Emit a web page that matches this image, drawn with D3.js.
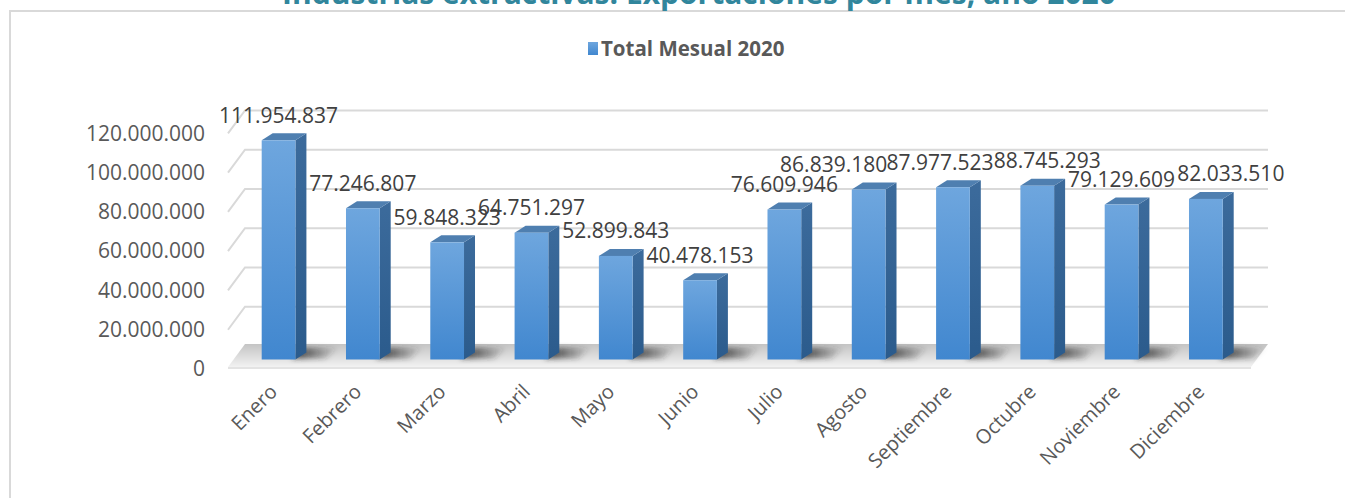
<!DOCTYPE html>
<html>
<head>
<meta charset="utf-8">
<script src="https://cdn.jsdelivr.net/npm/d3@7"></script>
<style>
  body { margin: 0; background: #fff; }
  svg { display: block; }
  text { font-family: "Open Sans", "Noto Sans", sans-serif; }
</style>
</head>
<body>
<svg id="chart" width="1345" height="498"></svg>
<script>
// ---- DATA ----
const title = "Industrias extractivas: Exportaciones por mes, año 2020";
const seriesName = "Total Mesual 2020";
const months = ["Enero","Febrero","Marzo","Abril","Mayo","Junio","Julio","Agosto","Septiembre","Octubre","Noviembre","Diciembre"];
const values = [111954837, 77246807, 59848323, 64751297, 52899843, 40478153, 76609946, 86839180, 87977523, 88745293, 79129609, 82033510];
const yTicks = [0, 20000000, 40000000, 60000000, 80000000, 100000000, 120000000];

// ---- LAYOUT / STYLE ----
const svg = d3.select("#chart");
const W = 1345, H = 498;
const fmt = d3.formatLocale({decimal: ",", thousands: ".", grouping: [3], currency: ["", ""]}).format(",d");
const labelNudgeX = [0, 0, 0, 0, 0, 0, 0, -35, -13, 10, 0, 25];

const defs = svg.append("defs");
const gFront = defs.append("linearGradient").attr("id", "gFront").attr("x1", 0).attr("y1", 0).attr("x2", 0).attr("y2", 1);
gFront.append("stop").attr("offset", "0%").attr("stop-color", "#6ea6de");
gFront.append("stop").attr("offset", "100%").attr("stop-color", "#4187cf");
const gSide = defs.append("linearGradient").attr("id", "gSide").attr("x1", 0).attr("y1", 0).attr("x2", 0).attr("y2", 1);
gSide.append("stop").attr("offset", "0%").attr("stop-color", "#3c6b9c");
gSide.append("stop").attr("offset", "100%").attr("stop-color", "#2b5b8c");
const gFloor = defs.append("linearGradient").attr("id", "gFloor").attr("x1", 0).attr("y1", 0).attr("x2", 0).attr("y2", 1);
gFloor.append("stop").attr("offset", "0%").attr("stop-color", "#c4c4c4");
gFloor.append("stop").attr("offset", "100%").attr("stop-color", "#f2f2f2");
const gShadow = defs.append("linearGradient").attr("id", "gShadow").attr("x1", 0).attr("y1", 0).attr("x2", 1).attr("y2", 0);
gShadow.append("stop").attr("offset", "0%").attr("stop-color", "#2a2a2a").attr("stop-opacity", 0.95);
gShadow.append("stop").attr("offset", "100%").attr("stop-color", "#2a2a2a").attr("stop-opacity", 0);
defs.append("filter").attr("id", "blur").attr("x", "-20%").attr("y", "-50%").attr("width", "140%").attr("height", "200%")
  .append("feGaussianBlur").attr("stdDeviation", 2.5);
const gLeg = defs.append("linearGradient").attr("id", "gLeg").attr("x1", 0).attr("y1", 0).attr("x2", 0).attr("y2", 1);
gLeg.append("stop").attr("offset", "0%").attr("stop-color", "#6ea6de");
gLeg.append("stop").attr("offset", "100%").attr("stop-color", "#4187cf");

// background + frame
svg.append("rect").attr("width", W).attr("height", H).attr("fill", "#fff");
svg.append("path").attr("d", `M10,${H} L10,11 L${W},11`).attr("fill", "none").attr("stroke", "#d9d9d9").attr("stroke-width", 2);

// title (cut off at top, as in the reference)
svg.append("text").attr("x", 699).attr("y", 4).attr("text-anchor", "middle")
  .attr("font-size", 30).attr("font-weight", 700).attr("fill", "#31869c").text(title);

// legend
svg.append("rect").attr("x", 588).attr("y", 42).attr("width", 10).attr("height", 13).attr("fill", "url(#gLeg)");
svg.append("text").attr("x", 601).attr("y", 55.5).attr("font-size", 20.5).attr("font-weight", 700)
  .attr("fill", "#595959").text(seriesName);

// scales
const plotX0 = 228, plotX1 = 1251;
const depthX = 17, depthY = -23;
const yFront = d3.scaleLinear().domain([0, 120000000]).range([369, 133.4]);
const yBar = d3.scaleLinear().domain([0, 120000000]).range([359.5, 359.5 - 120 * 1.958]);
const xBar = d3.scaleBand().domain(months).range([236.4, 1248]).paddingInner(0.6).paddingOuter(0.3);

// gridlines: side wall diagonal + back wall horizontal
const grid = svg.append("g");
yTicks.filter(v => v > 0).forEach(v => {
  const yf = yFront(v);
  grid.append("path")
    .attr("d", `M${plotX0},${yf} L${plotX0 + depthX},${yf + depthY} L${plotX1 + depthX},${yf + depthY}`)
    .attr("fill", "none").attr("stroke", "#d9d9d9").attr("stroke-width", 2);
});

// floor
const fy = yFront(0) - 2;
svg.append("path")
  .attr("d", `M${plotX0},${fy} L${plotX1},${fy} L${plotX1 + depthX},${fy + depthY} L${plotX0 + depthX},${fy + depthY} Z`)
  .attr("fill", "url(#gFloor)");
svg.append("line").attr("x1", plotX0).attr("x2", plotX1).attr("y1", fy + 1).attr("y2", fy + 1)
  .attr("stroke", "#e3e3e3").attr("stroke-width", 2);

// bar shadows on floor
const bw = xBar.bandwidth();
const sideW = 11, sideH = -7;
svg.append("g").attr("filter", "url(#blur)").selectAll("path").data(months).join("path")
  .attr("d", m => {
    const x = xBar(m) + bw, b = yBar(0);
    return `M${x - 4},${b - 1} L${x + 30},${b - 1} L${x + 44},${b - 12} L${x + 10},${b - 12} Z`;
  })
  .attr("fill", "url(#gShadow)");

// y axis
const yAxis = d3.axisLeft(yFront).tickValues(yTicks).tickSize(0).tickPadding(0).tickFormat(fmt);
const ya = svg.append("g").attr("transform", "translate(205,0)").call(yAxis);
ya.select(".domain").remove();
ya.selectAll("text").attr("font-size", 21).attr("fill", "#595959").attr("font-family", "'Open Sans', sans-serif");

// bars
const bars = svg.append("g").selectAll("g").data(months).join("g");
bars.append("path") // side face
  .attr("d", (m, i) => {
    const x = xBar(m) + bw, t = yBar(values[i]), b = yBar(0);
    return `M${x},${t} L${x + sideW},${t + sideH} L${x + sideW},${b + sideH} L${x},${b} Z`;
  })
  .attr("fill", "url(#gSide)");
bars.append("path") // top face
  .attr("d", (m, i) => {
    const x = xBar(m), t = yBar(values[i]);
    return `M${x},${t} L${x + bw},${t} L${x + bw + sideW},${t + sideH} L${x + sideW},${t + sideH} Z`;
  })
  .attr("fill", "#4f7fb0");
bars.append("rect") // front face
  .attr("x", m => xBar(m)).attr("width", bw)
  .attr("y", (m, i) => yBar(values[i])).attr("height", (m, i) => yBar(0) - yBar(values[i]))
  .attr("fill", "url(#gFront)");

// value labels
svg.append("g").selectAll("text").data(months).join("text")
  .attr("x", (m, i) => xBar(m) + bw / 2 + labelNudgeX[i])
  .attr("y", (m, i) => yBar(values[i]) - 25)
  .attr("dy", "0.35em")
  .attr("text-anchor", "middle").attr("font-size", 21).attr("fill", "#404040")
  .text((m, i) => fmt(values[i]));

// category labels
svg.append("g").selectAll("text").data(months).join("text")
  .attr("transform", m => `translate(${xBar(m) + bw / 2 - 5},${388}) rotate(-45)`)
  .attr("text-anchor", "end").attr("dy", "0.35em")
  .attr("font-size", 20).attr("fill", "#595959")
  .text(m => m);
</script>
</body>
</html>
